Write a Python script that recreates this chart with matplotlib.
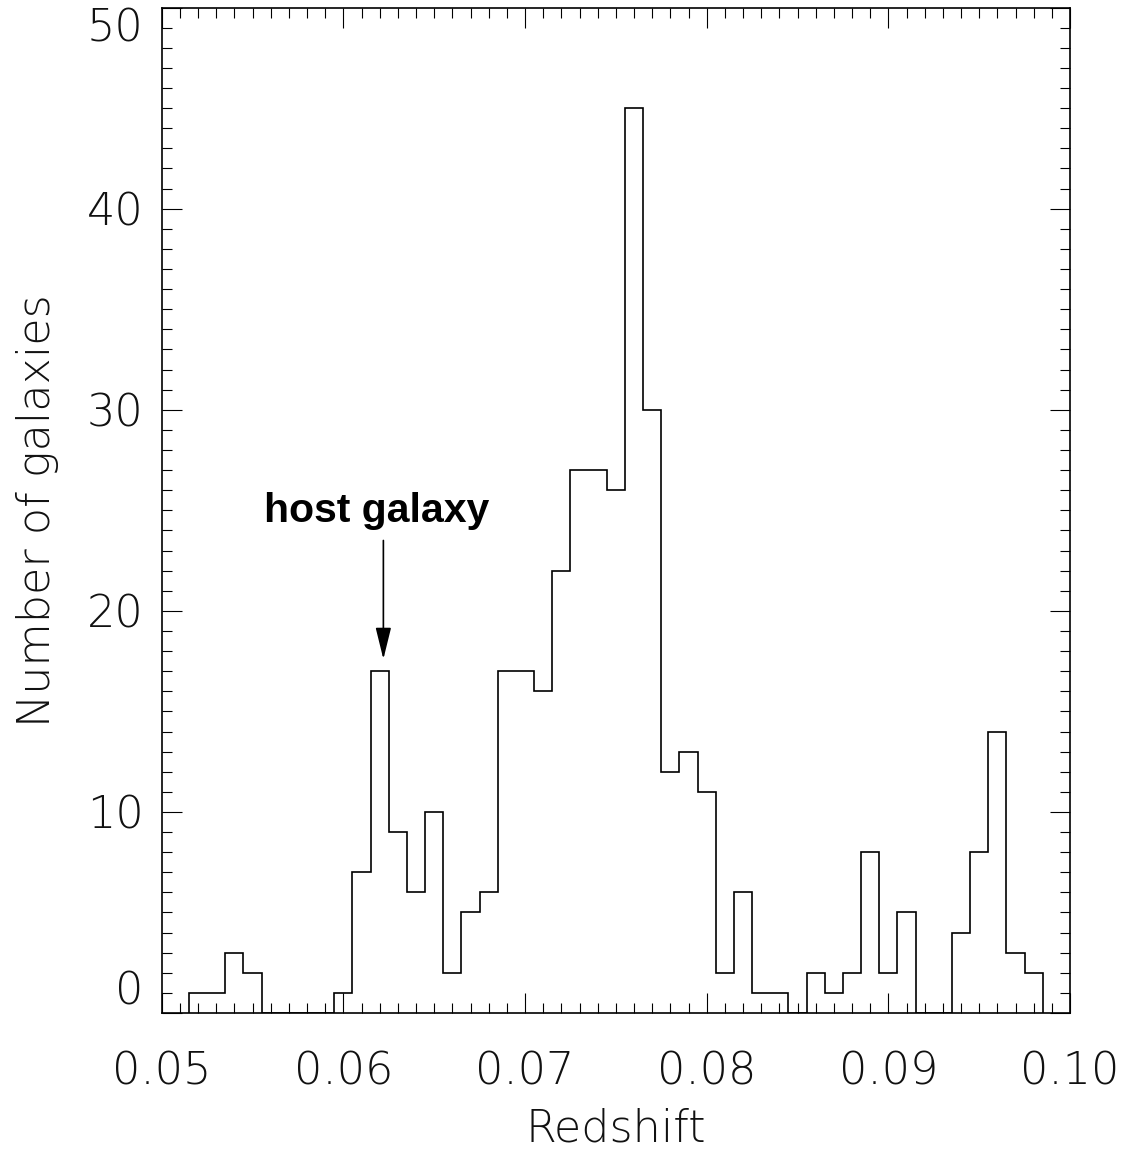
import matplotlib
matplotlib.use('Agg')
import matplotlib.pyplot as plt
from matplotlib import font_manager
import numpy as np

# bin centres (redshift) and galaxy counts
z_centres = np.round(np.arange(0.052, 0.0985, 0.001), 3)
counts = [1, 1, 3, 2, 0, 0, 0, 0, 1, 7, 17, 9, 6, 10, 2, 5, 6, 17, 17, 16,
          22, 27, 27, 26, 45, 30, 12, 13, 11, 2, 6, 1, 1, 0, 2, 1, 2, 8, 2, 5,
          0, 0, 4, 8, 14, 3, 2]
bin_width = 0.001
edges = np.append(z_centres - bin_width / 2, z_centres[-1] + bin_width / 2)

host_z = 0.0622
arrow_top, arrow_tip = 23.5, 17.6

# thin font to look like the IDL vector font: take the lightest DejaVu Sans
thin = None
for f in font_manager.fontManager.ttflist:
    if f.name == 'DejaVu Sans' and f.style == 'normal' and f.weight < 400:
        thin = f.fname
if thin:
    tick_fp = font_manager.FontProperties(fname=thin, size=32)
    tick_col = '#111111'
else:
    tick_fp = font_manager.FontProperties(family='DejaVu Sans', size=32)
    tick_col = '#555555'

fig = plt.figure(figsize=(11.28, 11.5), dpi=100)
ax = fig.add_axes([0.1434, 0.1191, 0.8052, 0.8743])

ax.stairs(counts, edges, color='black', linewidth=1.2, baseline=0)

ax.set_xlim(0.05, 0.10)
ax.set_ylim(0, 50)
ax.set_xticks(np.arange(0.05, 0.1001, 0.01))
ax.set_xticklabels(['0.05', '0.06', '0.07', '0.08', '0.09', '0.10'])
ax.set_xticks(np.arange(0.05, 0.1001, 0.001), minor=True)
ax.set_yticks(np.arange(0, 51, 10))
ax.set_yticklabels(['0', '10', '20', '30', '40', '50'])
ax.set_yticks(np.arange(0, 51, 1), minor=True)

ax.tick_params(which='both', direction='in', top=True, right=True, width=0.8)
ax.tick_params(which='major', length=14.4)
ax.tick_params(which='minor', length=7.2)
ax.tick_params(axis='x', which='major', pad=27)
ax.tick_params(axis='y', which='major', pad=13)
for s in ax.spines.values():
    s.set_linewidth(1.2)

for lab in ax.get_xticklabels() + ax.get_yticklabels():
    lab.set_fontproperties(tick_fp)
    lab.set_color(tick_col)
# IDL keeps the end labels inside the axis height
ylabs = ax.get_yticklabels()
ylabs[0].set_verticalalignment('bottom')
ylabs[-1].set_verticalalignment('top')

ax.set_xlabel('Redshift', labelpad=10, fontproperties=tick_fp, color=tick_col)
ax.set_ylabel('Number of galaxies', labelpad=20, fontproperties=tick_fp, color=tick_col)

ax.annotate('', xy=(host_z, arrow_tip), xytext=(host_z, arrow_top),
            arrowprops=dict(arrowstyle='-|>,head_length=0.65,head_width=0.16',
                            color='black', lw=1.2, mutation_scale=30,
                            shrinkA=0, shrinkB=0))
ax.text(0.06182, 24.4, 'host galaxy', family='Liberation Sans',
        weight='bold', size=29.5, ha='center', va='baseline')

fig.savefig('out.png', dpi=100)
